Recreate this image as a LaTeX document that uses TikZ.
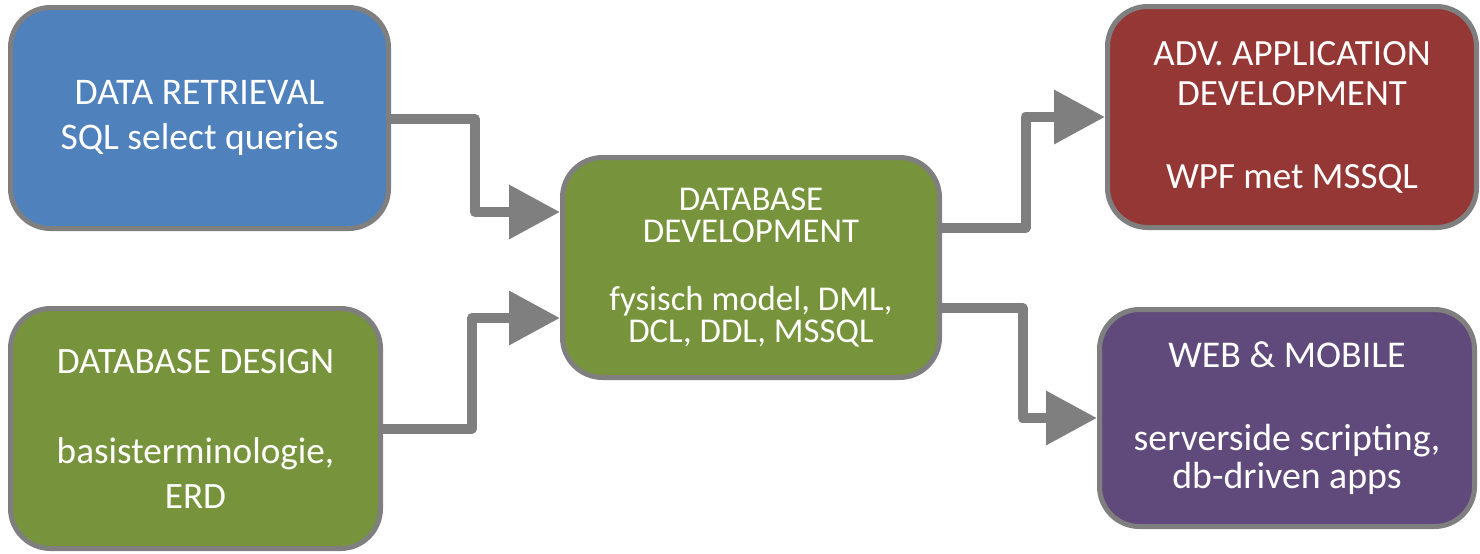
\documentclass[tikz,border=0pt]{standalone}
\usepackage{fontspec}
\setmainfont{Carlito}
\usetikzlibrary{arrows.meta}
\definecolor{boxblue}{RGB}{79,129,189}
\definecolor{boxgreen}{RGB}{119,147,60}
\definecolor{boxred}{RGB}{149,55,53}
\definecolor{boxpurple}{RGB}{96,74,123}
\definecolor{linegray}{RGB}{127,127,127}

\begin{document}
\begin{tikzpicture}[line join=round,>={Triangle[length=25.5pt,width=26pt]},x=0.5pt,y=-0.5pt]
    \tikzset{
      course/.style={draw=linegray,line width=2.5pt,rounded corners=20pt,text=white,align=center,inner sep=0pt},
      flow/.style={draw=linegray,line width=5pt,->}
    }
    \useasboundingbox (0,0) rectangle (1480,553);
    % courses
    \node[course,fill=boxblue,minimum width=189pt,minimum height=110.5pt,font=\fontsize{18.8}{22.5}\selectfont] (retr) at (199.5,118) {DATA RETRIEVAL\\SQL select queries};
    \node[course,fill=boxgreen,minimum width=185pt,minimum height=120pt,font=\fontsize{18.6}{22.5}\selectfont] (design) at (195.5,428.5) {DATABASE DESIGN\\[22.5pt]basisterminologie,\\ERD};
    \node[course,fill=boxgreen,minimum width=188.5pt,minimum height=110pt,font=\fontsize{17.4}{16}\selectfont] (dev) at (751,267.5) {DATABASE\\DEVELOPMENT\\[18pt]fysisch model, DML,\\DCL, DDL, MSSQL};
    \node[course,fill=boxred,minimum width=184.5pt,minimum height=110.5pt,font=\fontsize{18.5}{20}\selectfont] (adv) at (1292,117) {ADV. APPLICATION\\DEVELOPMENT\\[21.5pt]WPF met MSSQL};
    \node[course,fill=boxpurple,minimum width=187.5pt,minimum height=108.5pt,font=\fontsize{18.9}{19}\selectfont] (web) at (1287,418) {WEB \& MOBILE\\[22.5pt]serverside scripting,\\db-driven apps};
    % connectors
    \draw[flow] ([yshift=-0.5pt]retr.east) -- ++(84,0) |- ([yshift=27.75pt]dev.west);
    \draw[flow] (design.east) -- ++(89,0) |- ([yshift=-25.25pt]dev.west);
    \draw[flow] ([yshift=19.75pt]dev.east) -- ++(83.5,0) |- (adv.west);
    \draw[flow] ([yshift=-20.25pt]dev.east) -- ++(80.5,0) |- (web.west);
\end{tikzpicture}
\end{document}
